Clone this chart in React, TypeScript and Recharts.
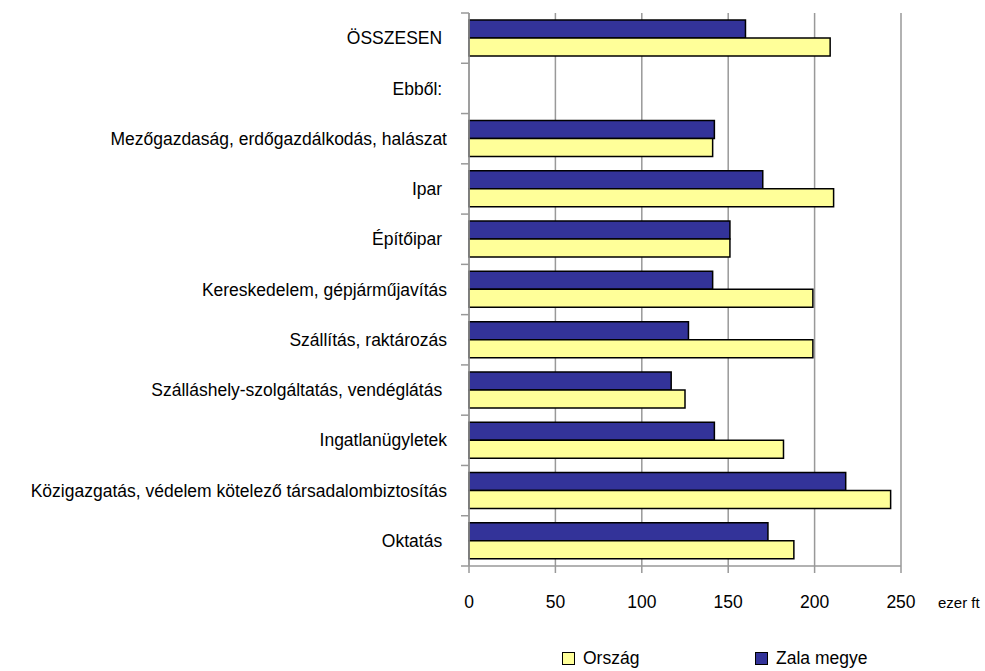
import { BarChart, Bar, XAxis, YAxis, CartesianGrid } from "recharts";

const categories = [
  "ÖSSZESEN\u00a0",
  "Ebből:\u00a0",
  "Mezőgazdaság, erdőgazdálkodás, halászat",
  "Ipar\u00a0",
  "Építőipar\u00a0",
  "Kereskedelem, gépjárműjavítás",
  "Szállítás, raktározás",
  "Szálláshely-szolgáltatás, vendéglátás\u00a0",
  "Ingatlanügyletek",
  "Közigazgatás, védelem kötelező társadalombiztosítás",
  "Oktatás\u00a0",
];
const orszag = [209, null, 141, 211, 151, 199, 199, 125, 182, 244, 188];
const zala = [160, null, 142, 170, 151, 141, 127, 117, 142, 218, 173];
const xTicks = [0, 50, 100, 150, 200, 250];
const seriesNames = ["Ország", "Zala megye"];
const unitLabel = "ezer ft";

const WIDTH = 985;
const HEIGHT = 671;
const PLOT_LEFT = 469;
const PLOT_TOP = 13;
const PLOT_RIGHT = 901;
const PLOT_BOTTOM = 566;
const BAND = (PLOT_BOTTOM - PLOT_TOP) / categories.length;
const FONT = '"Liberation Sans", Arial, sans-serif';
const GRID = "#999999";
const ZALA_COLOR = "#333399";
const ORSZAG_COLOR = "#FFFF99";

const data = categories.map((name, i) => ({
  name,
  orszag: orszag[i],
  zala: zala[i],
}));

function CategoryTick(props: any) {
  const { y, payload, index } = props;
  const isLast = index === categories.length - 1;
  return (
    <g>
      <line
        x1={PLOT_LEFT - 8}
        x2={PLOT_LEFT}
        y1={y - BAND / 2}
        y2={y - BAND / 2}
        stroke={GRID}
        strokeWidth={1.5}
      />
      {isLast && (
        <line
          x1={PLOT_LEFT - 8}
          x2={PLOT_LEFT}
          y1={y + BAND / 2}
          y2={y + BAND / 2}
          stroke={GRID}
          strokeWidth={1.5}
        />
      )}
      <text
        x={PLOT_LEFT - 22}
        y={y}
        dy="0.35em"
        textAnchor="end"
        fontSize={17.5}
        fill="#000"
        fontFamily={FONT}
      >
        {payload.value}
      </text>
    </g>
  );
}

function ValueTick(props: any) {
  const { x, y, payload } = props;
  const isLast = payload.value === xTicks[xTicks.length - 1];
  return (
    <g>
      <text
        x={x}
        y={y}
        dy="0.71em"
        textAnchor="middle"
        fontSize={17.5}
        fill="#000"
        fontFamily={FONT}
      >
        {payload.value}
      </text>
      {isLast && (
        <text
          x={x + 37}
          y={y + 1}
          dy="0.71em"
          textAnchor="start"
          fontSize={15}
          fill="#000"
          fontFamily={FONT}
        >
          {unitLabel}
        </text>
      )}
    </g>
  );
}

function LegendItem({ color, label, left }: { color: string; label: string; left: number }) {
  return (
    <div
      style={{
        position: "absolute",
        left,
        top: 648,
        display: "flex",
        alignItems: "center",
        fontFamily: FONT,
        fontSize: 17.5,
        color: "#000",
        whiteSpace: "nowrap",
      }}
    >
      <span
        style={{
          display: "inline-block",
          width: 11,
          height: 11,
          background: color,
          border: "1.5px solid #000",
          marginRight: 8,
        }}
      />
      {label}
    </div>
  );
}

export default function App() {
  return (
    <div
      style={{
        position: "absolute",
        left: 0,
        top: 0,
        width: WIDTH,
        height: HEIGHT,
        background: "#fff",
      }}
    >
      <BarChart
        width={WIDTH}
        height={HEIGHT}
        data={data}
        layout="vertical"
        barGap={0}
        margin={{
          top: PLOT_TOP,
          right: WIDTH - PLOT_RIGHT,
          left: 0,
          bottom: HEIGHT - PLOT_BOTTOM - 40,
        }}
      >
        <CartesianGrid horizontal={false} stroke={GRID} strokeWidth={1.5} />
        <XAxis
          type="number"
          domain={[0, 250]}
          ticks={xTicks}
          height={40}
          tickSize={7}
          tickMargin={23}
          axisLine={{ stroke: GRID, strokeWidth: 1.5 }}
          tickLine={{ stroke: GRID, strokeWidth: 1.5 }}
          tick={<ValueTick />}
        />
        <XAxis
          xAxisId="top"
          orientation="top"
          type="number"
          domain={[0, 250]}
          height={0}
          tick={false}
          tickLine={false}
          axisLine={{ stroke: GRID, strokeWidth: 1.5 }}
        />
        <YAxis
          type="category"
          dataKey="name"
          width={PLOT_LEFT}
          interval={0}
          tickLine={false}
          axisLine={{ stroke: GRID, strokeWidth: 1.5 }}
          tick={<CategoryTick />}
        />
        <Bar
          dataKey="zala"
          name={seriesNames[1]}
          fill={ZALA_COLOR}
          stroke="#000"
          strokeWidth={1.5}
          barSize={18}
          isAnimationActive={false}
        />
        <Bar
          dataKey="orszag"
          name={seriesNames[0]}
          fill={ORSZAG_COLOR}
          stroke="#000"
          strokeWidth={1.5}
          barSize={18}
          isAnimationActive={false}
        />
      </BarChart>
      <LegendItem color={ORSZAG_COLOR} label={seriesNames[0]} left={562} />
      <LegendItem color={ZALA_COLOR} label={seriesNames[1]} left={755} />
    </div>
  );
}
